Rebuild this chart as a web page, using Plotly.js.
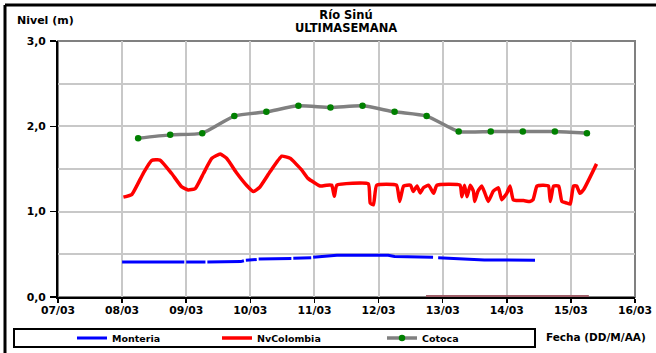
<!DOCTYPE html>
<html>
<head>
<meta charset="utf-8">
<script src="https://cdn.plot.ly/plotly-3.0.1.min.js"></script>
<style>
html,body{margin:0;padding:0;background:#fff;}
#chart{width:656px;height:353px;}
</style>
</head>
<body>
<div id="chart"></div>
<script>
// ---- data (times given as decimal day of March 2008) ----
const xTickDays = [7, 8, 9, 10, 11, 12, 13, 14, 15, 16];

const monteriaDays = [8.00, 8.50, 8.97, 8.985, 9.00, 9.30, 9.315, 9.33, 9.85, 9.90, 9.915, 9.93, 10.10, 10.115, 10.13, 10.60, 10.64, 10.655, 10.67, 10.95, 10.965, 10.98, 11.20, 11.35, 11.80, 12.15, 12.25, 12.85, 12.89, 12.93, 13.20, 13.55, 13.65, 14.44];
const monteriaVals = [0.41, 0.41, 0.41, null, 0.41, 0.41, null, 0.41, 0.415, 0.425, null, 0.43, 0.44, null, 0.445, 0.45, 0.45, null, 0.455, 0.46, null, 0.465, 0.475, 0.49, 0.49, 0.49, 0.475, 0.465, null, 0.46, 0.45, 0.44, 0.435, 0.43];

const nvColombiaDays = [8.02, 8.15, 8.33, 8.46, 8.59, 8.77, 8.93, 9.03, 9.14, 9.27, 9.40, 9.53, 9.63, 9.79, 9.94, 10.05, 10.15, 10.31, 10.49, 10.62, 10.80, 10.90, 11.09, 11.19, 11.27, 11.31, 11.35, 11.84, 11.87, 11.92, 11.97, 12.28, 12.33, 12.39, 12.50, 12.54, 12.60, 12.65, 12.70, 12.78, 12.86, 12.91, 13.27, 13.30, 13.34, 13.38, 13.43, 13.48, 13.50, 13.55, 13.61, 13.66, 13.71, 13.79, 13.87, 13.92, 14.00, 14.05, 14.10, 14.15, 14.26, 14.36, 14.41, 14.47, 14.57, 14.65, 14.68, 14.73, 14.81, 14.86, 14.94, 14.99, 15.04, 15.09, 15.14, 15.20, 15.40];
const nvColombiaVals = [1.17, 1.20, 1.45, 1.60, 1.605, 1.45, 1.29, 1.255, 1.27, 1.45, 1.625, 1.675, 1.625, 1.45, 1.31, 1.235, 1.29, 1.47, 1.65, 1.625, 1.49, 1.39, 1.30, 1.31, 1.31, 1.18, 1.31, 1.325, 1.10, 1.08, 1.31, 1.31, 1.12, 1.30, 1.31, 1.235, 1.30, 1.22, 1.28, 1.31, 1.215, 1.31, 1.31, 1.175, 1.31, 1.175, 1.31, 1.24, 1.12, 1.24, 1.30, 1.215, 1.12, 1.24, 1.28, 1.14, 1.215, 1.30, 1.14, 1.13, 1.13, 1.12, 1.14, 1.30, 1.31, 1.30, 1.12, 1.30, 1.30, 1.12, 1.10, 1.09, 1.30, 1.30, 1.215, 1.26, 1.56];

const cotocaDays = [8.25, 8.75, 9.25, 9.75, 10.25, 10.75, 11.25, 11.75, 12.25, 12.75, 13.25, 13.75, 14.25, 14.75, 15.25];
const cotocaVals = [1.86, 1.90, 1.92, 2.12, 2.17, 2.24, 2.22, 2.24, 2.17, 2.12, 1.94, 1.94, 1.94, 1.94, 1.92];

const otherDays = [12.74, 15.28];
const otherVals = [0, 0];

// ---- helpers ----
function pad(n){ return (n < 10 ? '0' : '') + n; }
function toDate(d){
  const day = Math.floor(d);
  const mins = Math.round((d - day) * 1440);
  return '2008-03-' + pad(day) + ' ' + pad(Math.floor(mins / 60)) + ':' + pad(mins % 60);
}

const bold = {family: 'DejaVu Sans', weight: 'bold', color: '#000'};
const f = (size) => Object.assign({}, bold, {size: size});

const traces = [
  {x: otherDays.map(toDate), y: otherVals, mode: 'lines', line: {color: '#a0606a', width: 4},
   showlegend: false, hoverinfo: 'skip'},
  {x: monteriaDays.map(toDate), y: monteriaVals, name: 'Monteria', mode: 'lines',
   line: {color: '#0000ff', width: 3}, connectgaps: false, legend: 'legend'},
  {x: nvColombiaDays.map(toDate), y: nvColombiaVals, name: 'NvColombia', mode: 'lines',
   line: {color: '#ff0000', width: 3.5, shape: 'spline', smoothing: 0.4}, legend: 'legend2'},
  {x: cotocaDays.map(toDate), y: cotocaVals, name: 'Cotoca', mode: 'lines+markers',
   line: {color: '#808080', width: 3.5, shape: 'spline', smoothing: 0.6},
   marker: {color: '#008000', size: 6.5}, legend: 'legend3'}
];

const px2x = (px) => (px - 58) / 577;
const px2y = (py) => (297 - py) / 256;

const legendBase = {orientation: 'h', yanchor: 'middle', xanchor: 'left', y: px2y(338),
  bgcolor: 'rgba(0,0,0,0)', borderwidth: 0, font: f(9.5)};

const layout = {
  width: 656, height: 353,
  margin: {l: 58, r: 21, t: 41, b: 56, autoexpand: false},
  paper_bgcolor: '#fff', plot_bgcolor: '#fff',
  separators: ',.',
  title: {text: 'Río Sinú', font: f(11.5), x: px2x(346), xref: 'paper', xanchor: 'center',
          y: 1 - 15/353, yref: 'container', yanchor: 'middle', automargin: false},
  xaxis: {
    type: 'date',
    range: [toDate(xTickDays[0]), toDate(xTickDays[xTickDays.length - 1])],
    tickvals: xTickDays.map(toDate), tickformat: '%d/%m',
    tickfont: f(10.8), ticklabelstandoff: -2,
    showgrid: true, gridcolor: '#c8c8c8', gridwidth: 2,
    showline: true, linecolor: '#000', linewidth: 2,
    ticks: 'outside', ticklen: 4, tickwidth: 1.5, tickcolor: '#000',
    layer: 'below traces', zeroline: false, fixedrange: true
  },
  yaxis: {
    range: [0, 3], tick0: 0, dtick: 1, tickformat: '.1f',
    tickfont: f(10.8), ticklabelstandoff: 2,
    showgrid: true, gridcolor: '#c8c8c8', gridwidth: 2,
    minor: {dtick: 0.5, showgrid: true, gridcolor: '#c8c8c8', gridwidth: 2, ticks: ''},
    showline: true, linecolor: '#000', linewidth: 2,
    ticks: 'outside', ticklen: 6, tickwidth: 1.5, tickcolor: '#000',
    zeroline: false, fixedrange: true, layer: 'below traces'
  },
  legend: Object.assign({}, legendBase, {x: px2x(72)}),
  legend2: Object.assign({}, legendBase, {x: px2x(217)}),
  legend3: Object.assign({}, legendBase, {x: px2x(382)}),
  shapes: [
    {type: 'rect', xref: 'paper', yref: 'paper', x0: 0, x1: 1, y0: 0, y1: 1,
     line: {color: '#808080', width: 2}, layer: 'below'},
    {type: 'line', xref: 'paper', yref: 'paper', x0: px2x(5), x1: px2x(656), y0: px2y(5), y1: px2y(5),
     line: {color: '#000', width: 3}},
    {type: 'line', xref: 'paper', yref: 'paper', x0: px2x(5), x1: px2x(5), y0: px2y(5), y1: px2y(353),
     line: {color: '#000', width: 3}},
    {type: 'rect', xref: 'paper', yref: 'paper', x0: px2x(14), x1: px2x(535), y0: px2y(347), y1: px2y(329),
     line: {color: '#000', width: 2}}
  ],
  annotations: [
    {text: 'ULTIMASEMANA', xref: 'paper', yref: 'paper', x: px2x(346), y: px2y(28),
     xanchor: 'center', yanchor: 'middle', showarrow: false, font: f(11.5)},
    {text: 'Nivel (m)', xref: 'paper', yref: 'paper', x: px2x(15), y: px2y(20),
     xanchor: 'left', yanchor: 'middle', showarrow: false, font: f(11)},
    {text: 'Fecha (DD/M/AA)', xref: 'paper', yref: 'paper', x: px2x(544), y: px2y(337),
     xanchor: 'left', yanchor: 'middle', showarrow: false, font: f(10.5)}
  ]
};

Plotly.newPlot('chart', traces, layout, {displayModeBar: false, staticPlot: true});
</script>
</body>
</html>
